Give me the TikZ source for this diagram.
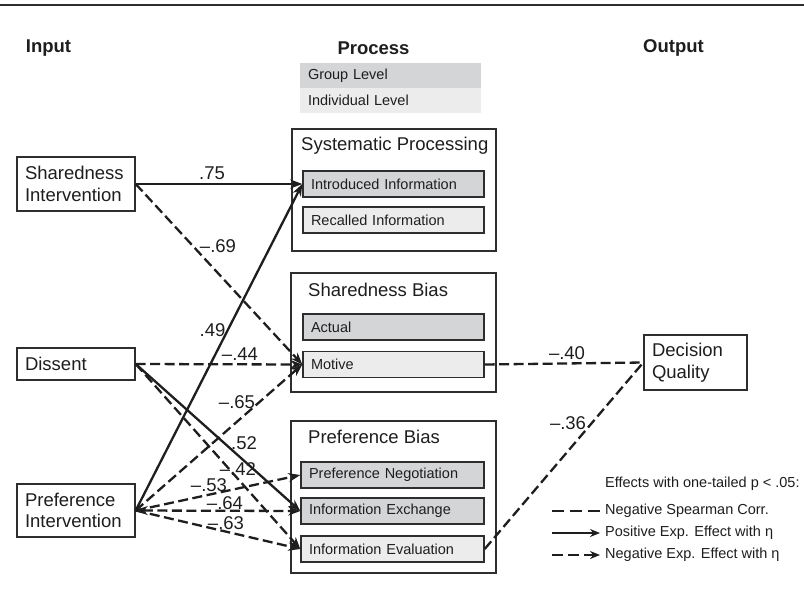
\documentclass[tikz,border=0pt]{standalone}
\usepackage{fontspec}
\setmainfont{Liberation Sans}
\usetikzlibrary{arrows.meta}
\definecolor{edge}{HTML}{2E2E2E}
\definecolor{ink}{HTML}{1E1E1E}
\definecolor{grpfill}{HTML}{D4D5D7}
\definecolor{indfill}{HTML}{ECECEC}
\newcommand{\bigfnt}{\fontsize{18.5}{21.5}\selectfont}
\newcommand{\smlfnt}{\fontsize{14.5}{17}\selectfont}
\tikzset{
  box/.style={draw=edge, line width=1.4pt, rectangle, inner xsep=8pt, inner ysep=0pt,
              align=left, font=\bigfnt, text=ink, text width=102pt},
  inbox/.style={draw=edge, line width=1.4pt, rectangle, inner xsep=8pt, inner ysep=0pt,
              align=left, font=\smlfnt, text=ink, text width=165pt, minimum height=26pt},
  grp/.style={inbox, fill=grpfill},
  ind/.style={inbox, fill=indfill},
  outerbox/.style={draw=edge, line width=1.4pt, rectangle, inner sep=0pt},
  titletext/.style={font=\bigfnt, text=ink, anchor=west, inner sep=0pt},
  headtext/.style={font=\bigfnt\bfseries, text=ink, inner sep=0pt},
  labtext/.style={font=\bigfnt, text=ink, inner sep=0pt},
  tipa/.tip={Stealth[length=12pt,width=9pt]},
  posarrow/.style={draw=ink, line width=2.3pt, -tipa},
  negarrow/.style={draw=ink, line width=2.3pt, dash pattern=on 10pt off 4.5pt, -tipa},
  spearline/.style={draw=ink, line width=2.3pt, dash pattern=on 10pt off 4.5pt},
  legtext/.style={font=\smlfnt, text=ink, anchor=west, inner sep=0pt},
}
\begin{document}
\begin{tikzpicture}[x=1pt,y=-1pt]
\useasboundingbox (0,0) rectangle (804,595);
\fill[white] (0,0) rectangle (804,595);
% top rule
\coordinate (ruleL) at (0,5);
\coordinate (ruleR) at (804,5);
\draw[edge, line width=2.5pt] (ruleL) -- (ruleR);

% headers
\node[headtext] (hin) at (48.5,48) {Input};
\node[headtext] (hproc) at (373.5,48) {Process};
\node[headtext] (hout) at (673.5,48) {Output};

% level key
\node[draw=none, fill=grpfill, minimum width=181pt, minimum height=25pt, inner xsep=8pt, inner ysep=0pt,
      text width=165pt, align=left, font=\smlfnt, text=ink] (kgrp) at (390.5,75.5) {Group Level};
\node[draw=none, fill=indfill, minimum width=181pt, minimum height=25pt, inner xsep=8pt, inner ysep=0pt,
      text width=165pt, align=left, font=\smlfnt, text=ink] (kind) at (390.5,100.5) {Individual Level};

% input boxes
\node[box, minimum height=54pt] (si) at (76,184) {Sharedness\\Intervention};
\node[box, minimum height=32pt] (dis) at (76,364) {Dissent};
\node[box, minimum height=53pt] (pi) at (76,510.5) {Preference\\Intervention};

% output box
\node[box, minimum height=55pt, text width=87pt] (dq) at (695.5,362.5) {Decision\\Quality};

% process outer boxes
\node[outerbox, minimum width=204pt, minimum height=122pt] (sys) at (394,190) {};
\node[titletext] (systit) at (301,146) {Systematic Processing};
\node[outerbox, minimum width=205pt, minimum height=119pt] (shb) at (393.5,332.5) {};
\node[titletext] (shbtit) at (308,290) {Sharedness Bias};
\node[outerbox, minimum width=205pt, minimum height=152pt] (prb) at (393.5,497) {};
\node[titletext] (prbtit) at (308,437) {Preference Bias};

% inner boxes
\node[grp] (intro) at (393.5,184) {Introduced Information};
\node[ind] (recall) at (393.5,220) {Recalled Information};
\node[grp] (actual) at (393.5,327) {Actual};
\node[ind] (motive) at (393.5,364.5) {Motive};
\node[grp, text width=167pt] (prneg) at (392.5,475) {Preference Negotiation};
\node[grp, text width=167pt] (infex) at (392.5,511) {Information Exchange};
\node[ind, text width=167pt] (infev) at (392.5,549) {Information Evaluation};

% connectors
\draw[posarrow] (si.east) -- (intro.west);
\draw[negarrow] (si.east) -- (motive.west);
\draw[posarrow] (pi.east) -- (intro.west);
\draw[negarrow] (dis.east) -- (motive.west);
\draw[negarrow] (pi.east) -- (motive.west);
\draw[posarrow] (dis.east) -- (infex.west);
\draw[negarrow] (dis.east) -- (infev.west);
\draw[negarrow] (pi.east) -- (prneg.west);
\draw[negarrow, tipa-tipa] (pi.east) -- (infex.west);
\draw[negarrow] (pi.east) -- (infev.west);
\draw[spearline] (motive.east) -- (dq.west);
\draw[spearline] (infev.east) -- (dq.west);

% labels
\node[labtext] (l75) at (212,173) {.75};
\node[labtext] (l69) at (218,246) {–.69};
\node[labtext] (l49) at (212.5,330) {.49};
\node[labtext] (l44) at (240,354) {–.44};
\node[labtext] (l65) at (237,402) {–.65};
\node[labtext] (l52) at (244,443) {.52};
\node[labtext] (l42) at (238,469) {–.42};
\node[labtext] (l53) at (209,485) {–.53};
\node[labtext] (l64) at (225,503) {–.64};
\node[labtext] (l63) at (226,523) {–.63};
\node[labtext] (l40) at (567,353) {–.40};
\node[labtext] (l36) at (568,423) {–.36};

% legend
\node[legtext] (leghead) at (605,484) {Effects with one-tailed p < .05:};
\coordinate (a1) at (552,511); \coordinate (b1) at (600,511);
\coordinate (a2) at (552,533); \coordinate (b2) at (600,533);
\coordinate (a3) at (552,555); \coordinate (b3) at (600,555);
\draw[draw=ink, line width=2.3pt, dash pattern=on 12pt off 6pt] (a1) -- (b1);
\draw[draw=ink, line width=2.3pt, -{Stealth[length=10pt,width=8pt]}] (a2) -- (b2);
\draw[draw=ink, line width=2.3pt, dash pattern=on 11pt off 5pt, -{Stealth[length=10pt,width=8pt]}] (a3) -- (b3);
\node[legtext] (leg1) at (605,511) {Negative Spearman Corr.};
\node[legtext] (leg2) at (605,533) {Positive Exp. Effect with η};
\node[legtext] (leg3) at (605,555) {Negative Exp. Effect with η};
\end{tikzpicture}
\end{document}
